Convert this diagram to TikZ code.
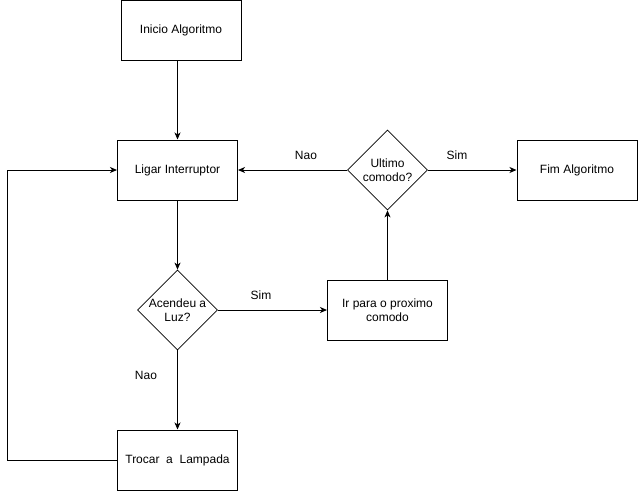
\documentclass[tikz,border=0pt]{standalone}
\usepackage{fontspec}
\setmainfont{Liberation Sans}
\usetikzlibrary{shapes.geometric,arrows.meta,calc}
\begin{document}
\begin{tikzpicture}[x=1pt,y=-1pt,
  font=\fontsize{12}{14}\selectfont,
  box/.style={draw,line width=1pt,minimum width=120pt,minimum height=60pt,inner sep=0pt,align=center},
  dia/.style={draw,line width=0.8pt,diamond,minimum width=80pt,minimum height=80pt,inner sep=0pt,aspect=1},
  txt/.style={align=center,inner sep=0pt},
  arr/.style={line width=1pt,-{Stealth[length=7pt,width=6pt,inset=2pt]}},
  lab/.style={inner sep=0pt}]
\useasboundingbox (0,0) rectangle (638,491);
\node[box] (inicio) at (181,30) {Inicio Algoritmo};
\node[box] (ligar) at (177.5,170) {Ligar Interruptor};
\node[dia] (acendeu) at (177.5,310) {};
\node[txt] (acendeut) at (177.5,310) {Acendeu a\\Luz?};
\node[box] (trocar) at (177.5,460) {Trocar\ \ a\ \ Lampada};
\node[box] (ir) at (387.5,310) {Ir para o proximo\\comodo};
\node[dia] (ultimo) at (387.5,170) {};
\node[txt] (ultimot) at (387.5,170) {Ultimo\\comodo?};
\node[box] (fim) at (577,170) {Fim Algoritmo};
\coordinate (c1) at (7.5,460);
\coordinate (c2) at (7.5,170);
\draw[arr] (ligar.north |- inicio.south) -- (ligar.north);
\draw[arr] (ligar.south) -- (acendeu.north);
\draw[arr] (acendeu.east) -- (ir.west);
\draw[arr] (acendeu.south) -- (trocar.north);
\draw[arr] (ir.north) -- (ultimo.south);
\draw[arr] (ultimo.west) -- (ligar.east);
\draw[arr] (ultimo.east) -- (fim.west);
\draw[arr] (trocar.west) -- (c1) -- (c2) -- (ligar.west);
\node[lab] (l1) at (306,155) {Nao};
\node[lab] (l2) at (457,155) {Sim};
\node[lab] (l3) at (261,295) {Sim};
\node[lab] (l4) at (146,375) {Nao};
\end{tikzpicture}
\end{document}
